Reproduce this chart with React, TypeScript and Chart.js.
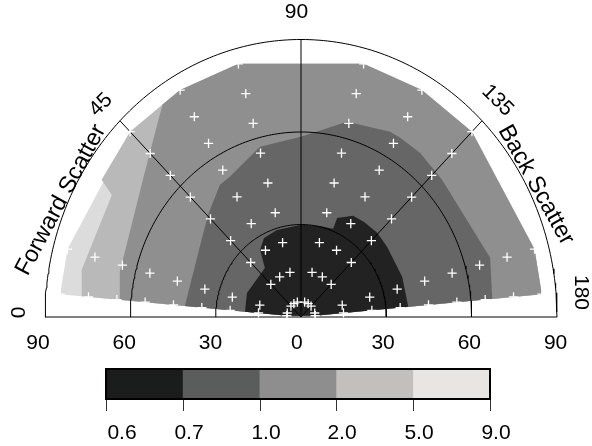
import { useEffect, useRef } from "react";
import { Chart, registerables } from "chart.js";

Chart.register(...registerables);

// measurement grid (scattering angle in degrees, radius)
const scatterAngles = [5, 15, 45, 60, 75, 105, 120, 135, 165, 175];
const scatterRadii = [5, 15, 25, 35, 45, 55, 65, 75, 85];

// polar grid
const gridRadii = [30, 60, 90];
const spokeAngles = [45, 90, 135];

// bottom axis
const axisTickValues = [-90, -60, -30, 0, 30, 60, 90];
const axisTickLabels = ["90", "60", "30", "0", "30", "60", "90"];

// colour key
const levelLabels = ["0.6", "0.7", "1.0", "2.0", "5.0", "9.0"];
const levelColors = ["#1b1d1c", "#5a5d5b", "#8e8e8e", "#c2bfbc", "#e8e5e3"];
const fillColors = ["#222222", "#666666", "#8f8f8f", "#b9b9b9", "#dcdcdc"];

// contour regions (cartesian, radius units); each contains the next
const regionAll: number[][] = [
  [-84.68, 7.41], [-82.1, 22.0], [-60.1, 60.1], [-42.5, 73.6], [-22.0, 82.1],
  [22.0, 82.1], [42.5, 73.6], [60.1, 60.1], [82.1, 22.0], [84.68, 7.41],
  [4.98, 0.44], [-4.98, 0.44],
];
const regionBelow5: number[][] = [
  [-77.1, 6.75], [-77.1, 15.3], [-66.5, 39.6], [-70.1, 44.5], [-60.1, 60.1],
  [-42.5, 73.6], [-22.0, 82.1], [22.0, 82.1], [42.5, 73.6], [60.1, 60.1],
  [82.1, 22.0], [84.68, 7.41], [4.98, 0.44], [-4.98, 0.44],
];
const regionBelow2: number[][] = [
  [-63.7, 5.57], [-63.7, 14.6], [-55.6, 44.5], [-50.4, 63.0], [-48.6, 69.0],
  [-42.5, 73.6], [-22.0, 82.1], [22.0, 82.1], [42.5, 73.6], [60.1, 60.1],
  [82.1, 22.0], [84.68, 7.41], [4.98, 0.44], [-4.98, 0.44],
];
const regionBelow1: number[][] = [
  [-40.84, 3.57], [-35.6, 22.7], [-32.7, 33.1], [-28.5, 42.9], [-25.0, 45.5],
  [-14.4, 55.2], [-0.35, 58.4], [16.2, 63.3], [31.3, 60.1], [34.9, 58.1],
  [41.9, 53.2], [49.6, 44.5], [66.5, 19.2], [67.24, 5.88], [4.98, 0.44],
  [-4.98, 0.44],
];
const regionBelow07: number[][] = [
  [-19.7, 1.73], [-19.0, 7.8], [-12.7, 15.9], [-14.4, 21.8], [-13.0, 25.6],
  [-8.45, 28.2], [0, 29.9], [6.7, 29.5], [11.3, 28.6], [12.7, 32.1],
  [18.3, 32.8], [22.2, 30.8], [26.8, 27.3], [30.3, 22.7], [35.6, 13.0],
  [37.7, 3.3], [4.98, 0.44], [-4.98, 0.44],
];

const FAMILY = '"Liberation Sans", Arial, sans-serif';
const FONT = `21px ${FAMILY}`;
const TITLE_FONT = `23.5px ${FAMILY}`;

const polar = (angleDeg: number, r: number) => {
  const a = (angleDeg * Math.PI) / 180;
  return { x: -r * Math.cos(a), y: r * Math.sin(a) };
};

const closed = (pts: number[][]) => {
  const out = pts.map(([x, y]) => ({ x, y }));
  out.push({ x: pts[0][0], y: pts[0][1] });
  return out;
};

const labelsPlugin = {
  id: "polarLabels",
  afterDraw(chart: any) {
    const ctx = chart.ctx as CanvasRenderingContext2D;
    const xs = chart.scales.x;
    ctx.save();
    ctx.fillStyle = "#000";
    ctx.font = FONT;
    ctx.textAlign = "center";
    ctx.textBaseline = "middle";

    const put = (text: string, x: number, y: number, rotDeg: number, font = FONT) => {
      ctx.save();
      ctx.font = font;
      ctx.translate(x, y);
      ctx.rotate((rotDeg * Math.PI) / 180);
      ctx.fillText(text, 0, 0);
      ctx.restore();
    };

    // bottom axis labels
    axisTickValues.forEach((v, i) => {
      const px = xs.getPixelForValue(v * 1.011) - 4.2;
      put(axisTickLabels[i], px, 343, 0);
    });

    // angle labels
    put("90", 296.5, 12.5, 0);
    put("45", 101, 105, -45);
    put("135", 497.5, 100.5, 45);
    put("0", 19.5, 312.5, -90);
    put("180", 580.5, 292.5, 90);
    put("Forward Scatter", 61, 200, -62, TITLE_FONT);
    put("Back Scatter", 536, 185, 61, TITLE_FONT);

    // colour key
    const x0 = 106, w = 384, top = 369, h = 30;
    const seg = w / levelColors.length;
    levelColors.forEach((c, i) => {
      ctx.fillStyle = c;
      ctx.fillRect(x0 + i * seg, top, seg + 0.5, h);
    });
    ctx.strokeStyle = "#000";
    ctx.lineWidth = 2;
    ctx.strokeRect(x0, top, w, h);
    ctx.lineWidth = 1;
    ctx.strokeStyle = "#333";
    ctx.fillStyle = "#000";
    levelLabels.forEach((lab, i) => {
      const tx = Math.round(x0 + i * seg) + 0.5;
      ctx.beginPath();
      ctx.moveTo(tx, top + h + 1);
      ctx.lineTo(tx, top + h + 12);
      ctx.stroke();
      const nudge = i === 0 ? 15.5 : 5.5;
      put(lab, tx + nudge, 433, 0);
    });
    ctx.restore();
  },
};

export default function App() {
  const ref = useRef<HTMLCanvasElement | null>(null);

  useEffect(() => {
    if (!ref.current) return;

    const crosses: { x: number; y: number }[] = [];
    scatterAngles.forEach((a) =>
      scatterRadii.forEach((r) => crosses.push(polar(a, r)))
    );

    const lineDs = (data: { x: number; y: number }[]) => ({
      type: "line" as const,
      data,
      borderColor: "#000",
      borderWidth: 1,
      pointRadius: 0,
      fill: false,
      clip: false as any,
      order: 1,
    });

    const arcs = gridRadii.map((r) => {
      const pts: { x: number; y: number }[] = [];
      for (let a = 0; a <= 180; a += 1) pts.push(polar(a, r));
      return lineDs(pts);
    });
    const spokes = spokeAngles.map((a) => lineDs([polar(a, 0), polar(a, 90)]));
    const baseline = lineDs([{ x: -90, y: 0 }, { x: 90, y: 0 }]);

    const regionDs = (pts: number[][], color: string, order: number) => ({
      type: "line" as const,
      data: closed(pts),
      backgroundColor: color,
      borderColor: "rgba(0,0,0,0)",
      borderWidth: 0,
      pointRadius: 0,
      fill: "shape",
      clip: false as any,
      order,
    });

    const chart = new Chart(ref.current, {
      type: "scatter",
      data: {
        datasets: [
          {
            type: "scatter",
            data: crosses,
            pointStyle: "cross",
            pointRadius: 4.6,
            borderColor: "#ffffff",
            backgroundColor: "#ffffff",
            borderWidth: 1.3,
            clip: false as any,
            order: 0,
          } as any,
          ...arcs,
          ...spokes,
          baseline,
          regionDs(regionBelow07, fillColors[0], 2),
          regionDs(regionBelow1, fillColors[1], 3),
          regionDs(regionBelow2, fillColors[2], 4),
          regionDs(regionBelow5, fillColors[3], 5),
          regionDs(regionAll, fillColors[4], 6),
        ] as any,
      },
      options: {
        animation: false,
        responsive: false,
        events: [],
        layout: { padding: { left: 45, right: 35, top: 39.5, bottom: 129 } },
        plugins: { legend: { display: false }, tooltip: { enabled: false } },
        scales: {
          x: { type: "linear", min: -90, max: 90, display: false },
          y: { type: "linear", min: 0, max: 90, display: false },
        },
      },
      plugins: [labelsPlugin],
    });

    return () => chart.destroy();
  }, []);

  return (
    <div style={{ position: "fixed", left: 0, top: 0, width: 592, height: 446, background: "#fff" }}>
      <canvas ref={ref} width={592} height={446} style={{ display: "block" }} />
    </div>
  );
}
